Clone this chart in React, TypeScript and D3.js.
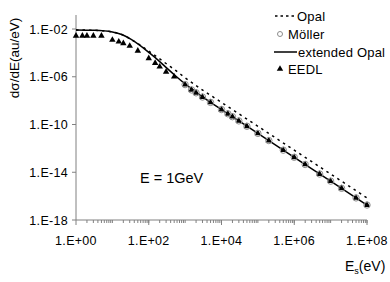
import { useEffect, useRef } from 'react';
import * as d3 from 'd3';

// Secondary electron energy Es (eV) and dσ/dE (au/eV)
const EXT_E = [1, 3.2, 10, 18, 32, 56, 100, 180, 320, 560, 1000, 3200, 1e4, 1e5, 1e6, 1e7, 1e8];
const EXT_Y = [8.3e-3, 7.8e-3, 5.6e-3, 3.5e-3, 1.4e-3, 4.5e-4, 1.1e-4, 2.5e-5, 5.0e-6, 1.1e-6, 2.5e-7, 1.8e-8, 1.8e-9, 1.8e-11, 1.8e-13, 1.8e-15, 1.8e-17];

const OPAL_E = [1, 3.2, 10, 18, 32, 56, 100, 180, 320, 560, 1000, 3200, 1e4, 1e5, 1e6, 1e7, 1e8];
const OPAL_Y = [8.3e-3, 7.8e-3, 5.6e-3, 3.5e-3, 1.4e-3, 4.8e-4, 1.4e-4, 4.0e-5, 1.1e-5, 3.2e-6, 8.3e-7, 6.8e-8, 7.1e-9, 7.1e-11, 7.1e-13, 7.1e-15, 7.1e-17];

const EEDL_E = [1, 1.5, 2, 3, 5, 10, 15, 20, 30, 50, 100, 150, 200, 300, 500, 1000, 1500, 2000, 3000, 5000, 1e4, 1.5e4, 2e4, 3e4, 5e4, 1e5, 2e5, 5e5, 1e6, 2e6, 5e6, 1e7, 2e7, 5e7, 1e8];
const EEDL_Y = [2.7e-3, 2.7e-3, 2.7e-3, 2.7e-3, 2.7e-3, 1.2e-3, 8.7e-4, 6.3e-4, 3.8e-4, 1.5e-4, 3.5e-5, 1.4e-5, 6.9e-6, 2.6e-6, 1.0e-6, 2.2e-7, 7.9e-8, 4.5e-8, 2.0e-8, 7.1e-9, 1.8e-9, 7.9e-10, 4.5e-10, 2.0e-10, 7.1e-11, 1.8e-11, 4.5e-12, 7.1e-13, 1.8e-13, 4.5e-14, 7.1e-15, 1.8e-15, 4.5e-16, 7.1e-17, 1.8e-17];

const MOLLER_E = [1000, 1500, 2000, 3000, 5000, 1e4, 1.5e4, 2e4, 3e4, 5e4, 1e5, 2e5, 5e5, 1e6, 2e6, 5e6, 1e7, 2e7, 5e7, 1e8];
const MOLLER_Y = [2.2e-7, 7.9e-8, 4.5e-8, 2.0e-8, 7.1e-9, 1.8e-9, 7.9e-10, 4.5e-10, 2.0e-10, 7.1e-11, 1.8e-11, 4.5e-12, 7.1e-13, 1.8e-13, 4.5e-14, 7.1e-15, 1.8e-15, 4.5e-16, 7.1e-17, 1.8e-17];

const X_TICKS = [1, 1e2, 1e4, 1e6, 1e8];
const X_TICK_LABELS = ['1.E+00', '1.E+02', '1.E+04', '1.E+06', '1.E+08'];
const Y_TICKS = [1e-2, 1e-6, 1e-10, 1e-14, 1e-18];
const Y_TICK_LABELS = ['1.E-02', '1.E-06', '1.E-10', '1.E-14', '1.E-18'];

const FONT = '"Liberation Sans", Arial, sans-serif';
const AXIS = '#808080';

export default function App() {
  const svgRef = useRef<SVGSVGElement>(null);

  useEffect(() => {
    if (!svgRef.current) return;
    const svg = d3.select(svgRef.current);
    svg.selectAll('*').remove();

    const x = d3.scaleLog().domain([1, 1e8]).range([76, 367]);
    const y = d3.scaleLog().domain([1e-18, 1e-2]).range([220, 29]);
    const yTop = 15;

    // axes
    svg.append('line')
      .attr('x1', x(1)).attr('x2', x(1)).attr('y1', yTop).attr('y2', y(1e-18))
      .attr('stroke', AXIS);
    svg.append('line')
      .attr('x1', x(1)).attr('x2', x(1e8)).attr('y1', y(1e-18)).attr('y2', y(1e-18))
      .attr('stroke', AXIS);

    // x minor ticks
    const minor: number[] = [];
    for (let dec = 0; dec < 8; dec++) {
      for (let k = 2; k <= 10; k++) minor.push(k * Math.pow(10, dec));
    }
    svg.append('g').selectAll('line').data(minor).join('line')
      .attr('x1', d => x(d)).attr('x2', d => x(d))
      .attr('y1', y(1e-18)).attr('y2', y(1e-18) + 3)
      .attr('stroke', AXIS);
    svg.append('g').selectAll('line').data(X_TICKS).join('line')
      .attr('x1', d => x(d)).attr('x2', d => x(d))
      .attr('y1', y(1e-18)).attr('y2', y(1e-18) + 5)
      .attr('stroke', AXIS);
    svg.append('g').selectAll('text').data(X_TICKS).join('text')
      .attr('x', d => x(d)).attr('y', 245)
      .attr('text-anchor', 'middle')
      .attr('font-family', FONT).attr('font-size', 12.5).attr('letter-spacing', 0.3)
      .text((_, i) => X_TICK_LABELS[i]);

    svg.append('g').selectAll('line').data(Y_TICKS).join('line')
      .attr('x1', x(1) - 4).attr('x2', x(1))
      .attr('y1', d => y(d)).attr('y2', d => y(d))
      .attr('stroke', AXIS);
    svg.append('g').selectAll('text').data(Y_TICKS).join('text')
      .attr('x', 68).attr('y', d => y(d) + 4.5)
      .attr('text-anchor', 'end')
      .attr('font-family', FONT).attr('font-size', 12.5).attr('letter-spacing', 0.3)
      .text((_, i) => Y_TICK_LABELS[i]);

    const line = d3.line<[number, number]>()
      .x(d => x(d[0])).y(d => y(d[1]))
      .curve(d3.curveMonotoneX);

    // Opal (dashed)
    svg.append('path')
      .attr('d', line(OPAL_E.map((e, i) => [e, OPAL_Y[i]] as [number, number])))
      .attr('fill', 'none').attr('stroke', '#000')
      .attr('stroke-width', 1.5).attr('stroke-dasharray', '2.5,4');

    // extended Opal (solid)
    svg.append('path')
      .attr('d', line(EXT_E.map((e, i) => [e, EXT_Y[i]] as [number, number])))
      .attr('fill', 'none').attr('stroke', '#000').attr('stroke-width', 1.5);

    const tri = d3.symbol().type(d3.symbolTriangle).size(18);

    // EEDL
    svg.append('g').selectAll('path').data(EEDL_E).join('path')
      .attr('d', tri)
      .attr('transform', (d, i) => `translate(${x(d)},${y(EEDL_Y[i])})`)
      .attr('fill', '#000');

    // Möller
    svg.append('g').selectAll('circle').data(MOLLER_E).join('circle')
      .attr('cx', d => x(d)).attr('cy', (_, i) => y(MOLLER_Y[i]))
      .attr('r', 3.2)
      .attr('fill', 'none').attr('stroke', '#8c8c8c').attr('stroke-width', 1);

    // legend
    const lg = svg.append('g').attr('font-family', FONT).attr('font-size', 13).attr('letter-spacing', 0.2);
    lg.append('line').attr('x1', 275).attr('x2', 296).attr('y1', 16).attr('y2', 16)
      .attr('stroke', '#000').attr('stroke-width', 1.3).attr('stroke-dasharray', '2.5,3');
    lg.append('text').attr('x', 297).attr('y', 20.5).text('Opal');
    lg.append('circle').attr('cx', 280).attr('cy', 34).attr('r', 2.5)
      .attr('fill', 'none').attr('stroke', '#8c8c8c');
    lg.append('text').attr('x', 288).attr('y', 38.5).text('Möller');
    lg.append('line').attr('x1', 274).attr('x2', 297).attr('y1', 52).attr('y2', 52)
      .attr('stroke', '#000').attr('stroke-width', 1.5);
    lg.append('text').attr('x', 298).attr('y', 56.5).text('extended Opal');
    lg.append('path').attr('d', tri).attr('transform', 'translate(280,69)').attr('fill', '#000');
    lg.append('text').attr('x', 288).attr('y', 73.5).text('EEDL');

    // annotation
    svg.append('text').attr('x', 140).attr('y', 183)
      .attr('font-family', FONT).attr('font-size', 14.5)
      .text('E = 1GeV');

    // axis titles
    svg.append('text')
      .attr('transform', 'translate(19,58) rotate(-90)')
      .attr('text-anchor', 'middle')
      .attr('font-family', FONT).attr('font-size', 13.5)
      .text('dσ/dE(au/eV)');

    const xt = svg.append('text').attr('x', 345).attr('y', 271)
      .attr('font-family', FONT).attr('font-size', 14);
    xt.append('tspan').text('E');
    xt.append('tspan').attr('font-size', 9).attr('dy', 3).text('s');
    xt.append('tspan').attr('dy', -3).text('(eV)');
  }, []);

  return (
    <svg
      ref={svgRef}
      width={390}
      height={282}
      style={{ position: 'absolute', left: 0, top: 0, background: '#fff' }}
    />
  );
}
